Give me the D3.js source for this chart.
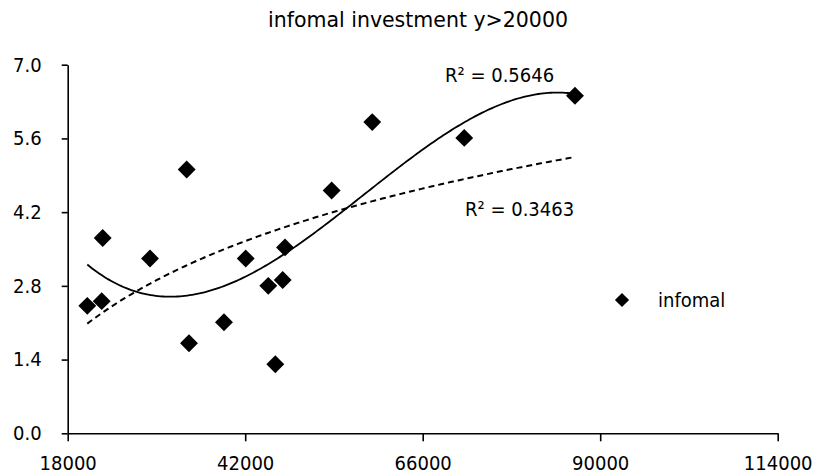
<!DOCTYPE html>
<html>
<head>
<meta charset="utf-8">
<script src="https://cdn.jsdelivr.net/npm/d3@7/dist/d3.min.js"></script>
<style>
  body { margin: 0; background: #fff; }
  text { font-family: "DejaVu Sans Condensed", "DejaVu Sans", sans-serif; fill: #000; }
</style>
</head>
<body>
<svg id="chart" width="815" height="475"></svg>
<script>
// data
var income = [20650, 22600, 22730, 29130, 34090, 34400, 39130, 42070, 45120, 47070, 46070, 47380, 53690, 59180, 71620, 86590];
var infomal = [2.42, 2.51, 3.71, 3.32, 5.01, 1.71, 2.11, 3.32, 2.80, 2.91, 1.31, 3.53, 4.61, 5.91, 5.61, 6.41];
var xTicks = [18000, 42000, 66000, 90000, 114000];
var yTicks = [0, 1.4, 2.8, 4.2, 5.6, 7.0];
var rLabels = ["R\u00b2 = 0.5646", "R\u00b2 = 0.3463"];
var seriesName = "infomal";
var title = "infomal investment y>20000";

var svg = d3.select("#chart");

var x = d3.scaleLinear().domain([18000, 114000]).range([67.7, 777.7]);
var y = d3.scaleLinear().domain([0, 7]).range([433.3, 64.7]);

// least squares polynomial fit, x scaled to keep the matrix sane
function polyfit(xs, ys, deg) {
    var n = deg + 1, A = [], b = [];
    for (var i = 0; i < n; i++) { A.push(new Array(n).fill(0)); b.push(0); }
    xs.forEach((xv, k) => {
        for (var i = 0; i < n; i++) {
            for (var j = 0; j < n; j++) A[i][j] += Math.pow(xv, i + j);
            b[i] += ys[k] * Math.pow(xv, i);
        }
    });
    for (var c = 0; c < n; c++) {
        var p = c;
        for (var r = c + 1; r < n; r++) if (Math.abs(A[r][c]) > Math.abs(A[p][c])) p = r;
        [A[c], A[p]] = [A[p], A[c]]; [b[c], b[p]] = [b[p], b[c]];
        for (var r = c + 1; r < n; r++) {
            var f = A[r][c] / A[c][c];
            for (var j = c; j < n; j++) A[r][j] -= f * A[c][j];
            b[r] -= f * b[c];
        }
    }
    var coef = new Array(n).fill(0);
    for (var i = n - 1; i >= 0; i--) {
        var s = b[i];
        for (var j = i + 1; j < n; j++) s -= A[i][j] * coef[j];
        coef[i] = s / A[i][i];
    }
    return coef;
}
var evalPoly = (c, t) => c.reduce((s, v, i) => s + v * Math.pow(t, i), 0);

var scaled = income.map(v => (v - 50000) / 10000);
var cubic = polyfit(scaled, infomal, 3);
var logFit = polyfit(income.map(v => Math.log(v)), infomal, 1);

var xMin = d3.min(income), xMax = d3.max(income);
var grid = d3.range(0, 201).map(i => xMin + (xMax - xMin) * i / 200);

var line = d3.line().x(d => x(d[0])).y(d => y(d[1]));

// axes
var yAxis = d3.axisLeft(y).tickValues(yTicks).tickFormat(d3.format(".1f"))
    .tickSizeInner(6).tickSizeOuter(0).tickPadding(20);
var xAxis = d3.axisBottom(x).tickValues(xTicks).tickFormat(d => d)
    .tickSizeInner(8).tickSizeOuter(0).tickPadding(15);

var gy = svg.append("g").attr("transform", "translate(" + x.range()[0] + ",0)").call(yAxis);
var gx = svg.append("g").attr("transform", "translate(0," + y.range()[0] + ")").call(xAxis);
[gx, gy].forEach(g => {
    g.attr("font-family", null).attr("font-size", null);
    g.selectAll("path, line").attr("stroke", "#000").attr("stroke-width", 1.6);
    g.selectAll("text").style("font-size", "20px").attr("fill", "#000");
});

// trend lines
svg.append("path")
    .attr("d", line(grid.map(v => [v, evalPoly(logFit, Math.log(v))])))
    .attr("fill", "none").attr("stroke", "#000").attr("stroke-width", 2)
    .attr("stroke-dasharray", "6,4");
svg.append("path")
    .attr("d", line(grid.map(v => [v, evalPoly(cubic, (v - 50000) / 10000)])))
    .attr("fill", "none").attr("stroke", "#000").attr("stroke-width", 1.8);

// points
var diamond = d3.symbol().type(d3.symbolSquare).size(160);
svg.selectAll("path.pt")
    .data(income.map((v, i) => [v, infomal[i]]))
    .enter()
    .append("path")
    .attr("class", "pt")
    .attr("d", diamond)
    .attr("transform", d => "translate(" + x(d[0]) + "," + y(d[1]) + ") rotate(45)")
    .attr("fill", "#000");

// labels
svg.append("text").attr("x", 418).attr("y", 27).attr("text-anchor", "middle")
    .style("font-family", "'DejaVu Sans', sans-serif")
    .style("font-size", "20.5px").text(title);
svg.append("text").attr("x", 445).attr("y", 82).style("font-size", "20px").text(rLabels[0]);
svg.append("text").attr("x", 465).attr("y", 216).style("font-size", "20px").text(rLabels[1]);

// legend
svg.append("path").attr("d", d3.symbol().type(d3.symbolSquare).size(100))
    .attr("transform", "translate(622,300) rotate(45)").attr("fill", "#000");
svg.append("text").attr("x", 658).attr("y", 307).style("font-size", "20px").text(seriesName);
</script>
</body>
</html>
